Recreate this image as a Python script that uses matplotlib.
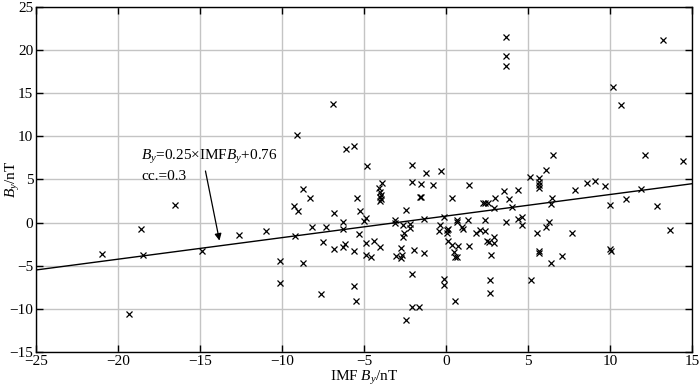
import numpy as np
import matplotlib
matplotlib.use("Agg")
import matplotlib.pyplot as plt

plt.rcParams['font.family'] = ['Liberation Serif', 'DejaVu Serif']
plt.rcParams['mathtext.fontset'] = 'custom'
plt.rcParams['mathtext.rm'] = 'Liberation Serif'
plt.rcParams['mathtext.it'] = 'Liberation Serif:italic'

# IMF By vs ground By (nT)
imf_by = [
    -21.0, -19.3, -18.6, -18.5, -16.5, -14.9, -12.6, -11.0, -10.1, -10.1,
    -9.1, -9.25, -9.0, -9.2, -8.7, -8.7, -8.3, -8.15, -7.6, -7.5,
    -7.3, -6.9, -6.85, -6.8, -6.3, -6.3, -6.3, -6.15, -6.1, -5.6,
    -5.6, -5.6, -5.5, -5.4, -5.25, -5.3, -4.9, -5.0, -4.9, -4.8,
    -4.85, -4.6, -4.4, -4.0, -3.9, -4.1, -4.05, -3.95, -4.05, -3.95,
    -4.0, -3.1, -3.1, -3.05, -2.75, -2.7, -2.75, -2.6, -2.55, -2.6,
    -2.45, -2.2, -2.2, -2.45, -2.1, -2.1, -2.1, -2.05, -1.95, -1.65,
    -1.6, -1.5, -1.55, -1.35, -1.35, -1.2, -0.8, -0.3, -0.15, -0.35,
    -0.45, 0.05, 0.15, 0.05, -0.15, -0.15, 0.1, 0.35, 0.35, 0.5,
    0.55, 0.7, 0.75, 0.55, 0.65, 0.7, 1.0, 1.05, 1.35, 1.4,
    1.4, 1.85, 2.1, 2.4, 2.35, 2.25, 2.4, 2.55, 2.5, 2.65,
    2.9, 2.9, 2.75, 2.7, 2.7, 2.9, 3.0, 3.55, 3.65, 3.65,
    3.65, 3.65, 3.85, 4.0, 4.4, 4.4, 4.65, 4.65, 5.1, 5.2,
    5.55, 5.65, 5.65, 5.65, 5.65, 5.65, 5.65, 6.1, 6.1, 6.25,
    6.4, 6.45, 6.4, 6.55, 7.05, 7.7, 7.85, 8.6, 9.1, 9.7,
    10.0, 10.0, 10.05, 10.2, 10.7, 11.0, 11.9, 12.15, 12.85, 13.25,
    13.65, 14.45,
]
ground_by = [
    -3.6, -10.6, -0.7, -3.7, 2.0, -3.3, -1.4, -1.0, -4.4, -7.0,
    10.1, 1.9, 1.3, -1.6, -4.7, 3.9, 2.9, -0.5, -8.3, -2.2,
    -0.5, 13.8, 1.1, -3.0, 0.05, -0.7, -2.85, -2.5, 8.5, 8.9,
    -3.3, -7.4, -9.05, 2.9, 1.3, -1.35, 0.55, 0.2, -2.35, 6.6,
    -3.7, -3.95, -2.15, -2.8, 4.6, 4.0, 3.5, 3.2, 2.95, 2.7,
    2.45, 0.35, 0.0, -3.85, -2.9, -3.75, -4.05, -0.25, -1.15, -1.65,
    1.5, -0.2, -0.6, -11.3, -6.0, 6.7, 4.7, -9.8, -3.15, -9.8,
    2.95, 2.95, 4.5, 0.4, -3.55, 5.8, 4.4, 6.0, 0.6, -0.3,
    -1.0, -0.8, -0.7, -1.25, -6.5, -7.2, -2.1, -2.6, 2.9, -3.45,
    -3.95, -4.0, -2.75, -9.05, 0.35, 0.1, -0.55, -0.75, 0.25, 4.4,
    -2.7, -1.15, -0.85, -1.0, 0.35, 2.3, 2.25, 2.25, -2.1, -2.2,
    -1.7, -2.35, -3.7, -6.6, -8.2, 1.75, 2.9, 3.7, 21.55, 19.35,
    18.15, 0.1, 2.75, 1.8, 3.8, 0.4, 0.6, -0.3, 5.3, -6.6,
    -1.2, 5.2, 4.75, 4.35, 4.0, -3.3, -3.55, 6.1, -0.5, 0.05,
    -4.7, 2.8, 2.2, 7.85, -3.9, -1.25, 3.8, 4.6, 4.85, 4.2,
    2.0, -3.0, -3.3, 15.7, 13.6, 2.7, 3.95, 7.85, 1.9, 21.2,
    -0.8, 7.1,
]

fit_slope = 0.25
fit_icpt = 0.76
fit_x = [-25, 15]

fig = plt.figure(figsize=(7, 3.87), dpi=100)
ax = fig.add_axes([0.0514, 0.0904, 0.9372, 0.8916])

ax.plot(imf_by, ground_by, 'x', color='black', markersize=4.5, mew=0.9, zorder=3)
fx = np.array(fit_x)
ax.plot(fx, fit_slope * fx + fit_icpt, color='black', lw=1.0, zorder=2)

ax.set_xlim(-25, 15)
ax.set_ylim(-15, 25)
ax.set_xticks(np.arange(-25, 16, 5))
ax.set_yticks(np.arange(-15, 26, 5))
ax.grid(True, color='#c4c4c4', lw=1.0)
ax.set_axisbelow(True)
ax.tick_params(direction='in', length=5, width=1, top=True, right=True,
               labelsize=11, pad=2)
for s in ax.spines.values():
    s.set_linewidth(1.0)

ax.set_xlabel(r'IMF $B_y$/nT', fontsize=11, labelpad=1)
ax.set_ylabel(r'$B_y$/nT', fontsize=11)
ax.yaxis.set_label_coords(-0.022, 0.5)

ax.annotate('', xy=(-13.78, -2.4), xytext=(-14.7, 6.3),
            arrowprops=dict(arrowstyle='-|>', color='black', lw=0.9,
                            mutation_scale=10))
ax.text(-18.6, 7.6, r'$B_y$=0.25×IMF$B_y$+0.76', fontsize=11, va='center')
ax.text(-18.6, 5.4, 'cc.=0.3', fontsize=11, va='center')

fig.savefig('out.png', dpi=100)
